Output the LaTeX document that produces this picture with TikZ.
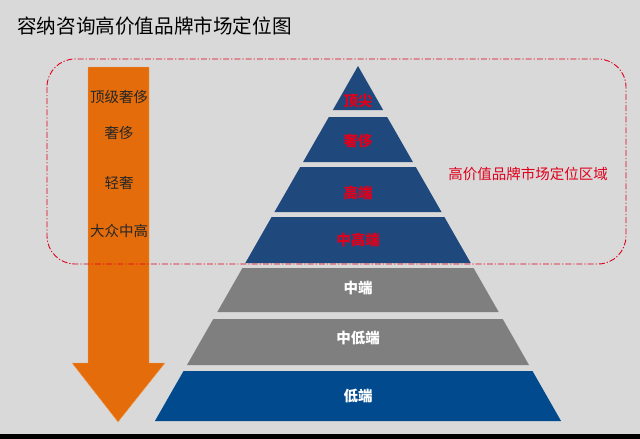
\documentclass[tikz,border=0pt]{standalone}
\usepackage{fontspec}
\newfontfamily\cjk{Noto Sans CJK SC}
\definecolor{bggray}{HTML}{D9D9D9}
\definecolor{navy}{HTML}{1F497D}
\definecolor{midgray}{HTML}{7F7F7F}
\definecolor{lowblue}{HTML}{004A8D}
\definecolor{orng}{HTML}{E46C0A}
\definecolor{txtred}{HTML}{E0001B}
\begin{document}
\begin{tikzpicture}[x=1pt,y=-1pt,
  toplabel/.style={text=txtred,font=\cjk\bfseries\fontsize{14.5}{15}\selectfont},
  botlabel/.style={text=white,font=\cjk\bfseries\fontsize{14.5}{15}\selectfont},
  arrlabel/.style={text=black!85,font=\cjk\fontsize{14.5}{15}\selectfont},
  zone/.style={draw=txtred,line width=0.9pt,dash pattern=on 6pt off 2pt on 1.2pt off 2pt,rounded corners=28pt}]
% background
\fill[bggray] (0,0) rectangle (640,439);
\fill[black] (0,434) rectangle (640,439);
% title
\node[anchor=west,inner sep=0pt,font=\cjk\fontsize{19.6}{21}\selectfont] (title) at (17,26) {容纳咨询高价值品牌市场定位图};
% orange arrow
\fill[orng,draw=orng!60!white,line width=0.4pt] (88,67) -- (149,67) -- (149,363) -- (165,363) -- (118,422) -- (72,363) -- (88,363) -- cycle;
\node[arrlabel] (a1) at (119,97) {顶级奢侈};
\node[arrlabel] (a2) at (119,133) {奢侈};
\node[arrlabel] (a3) at (119,183) {轻奢};
\node[arrlabel] (a4) at (119,231) {大众中高};
% pyramid: center 358, half width = 0.572*(y-66)
\def\cx{358}
\def\sl{0.572}
\newcommand{\trap}[3]{%
  \fill[#3] ({\cx-\sl*(#1-66)},#1) -- ({\cx+\sl*(#1-66)},#1) -- ({\cx+\sl*(#2-66)},#2) -- ({\cx-\sl*(#2-66)},#2) -- cycle;}
\trap{66}{110}{navy}
\trap{117}{162}{navy}
\trap{167}{212}{navy}
\trap{217}{263}{navy}
\trap{268}{312}{midgray}
\trap{319}{365}{midgray}
\trap{371}{421}{lowblue}
\node[toplabel] (p1) at (358,101) {顶尖};
\node[toplabel] (p2) at (358,141) {奢侈};
\node[toplabel] (p3) at (358,193) {高端};
\node[toplabel] (p4) at (358,240) {中高端};
\node[botlabel] (p5) at (358,288) {中端};
\node[botlabel] (p6) at (358,338) {中低端};
\node[botlabel] (p7) at (358,396) {低端};
% zone
\draw[zone] (47,59) rectangle (626,264);
\node[text=txtred,font=\cjk\fontsize{14.5}{15}\selectfont] (zl) at (528,174) {高价值品牌市场定位区域};
\end{tikzpicture}
\end{document}
